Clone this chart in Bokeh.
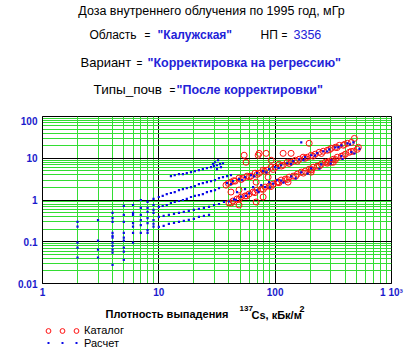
from bokeh.plotting import figure
from bokeh.models import FixedTicker, Range1d, Legend, LegendItem
from bokeh.layouts import column
from bokeh.core.properties import value
from bokeh.embed import file_html
from bokeh.resources import INLINE

# ---------------- data (density kBq/m2, dose mGy) ----------------
# Расчет (calculated) - vertical stacks at low density
calc_stack_x = [2, 2, 2, 2, 2,
                3, 3, 3, 3,
                4, 4, 4, 4, 4, 4, 4, 4, 4, 4, 4,
                5, 5, 5, 5, 5, 5, 5, 5, 5,
                6, 6, 6, 6, 6, 6, 6,
                7, 7, 7, 7, 7, 7,
                8, 8, 8, 8, 8, 8, 8,
                9, 9, 9, 9, 9, 9, 9]
calc_stack_y = [0.30, 0.23, 0.095, 0.072, 0.042,
                0.33, 0.106, 0.065, 0.042,
                0.49, 0.37, 0.30, 0.164, 0.139, 0.125, 0.095, 0.080, 0.065, 0.055, 0.028,
                0.72, 0.44, 0.30, 0.164, 0.125, 0.106, 0.072, 0.058, 0.037,
                0.76, 0.49, 0.44, 0.28, 0.23, 0.164, 0.095,
                1.0, 0.645, 0.44, 0.33, 0.25, 0.164,
                0.90, 0.645, 0.52, 0.37, 0.28, 0.19, 0.164,
                1.06, 0.76, 0.58, 0.49, 0.33, 0.27, 0.23]

calc_b1_x = [12.7, 13.7, 14.9, 16.1, 17.4, 18.9, 20.4, 22.1, 23.9, 25.9, 28.1, 29.8, 31.6, 33.6, 35.6,
             30.4, 32.3, 34.2, 31.6, 29.2]
calc_b1_y = [3.73, 3.94, 4.16, 4.16, 4.39, 4.65, 4.91, 5.18, 5.47, 5.79, 6.1, 6.45, 6.8, 7.2, 7.6,
             8.03, 8.96, 6.1, 5.47, 7.2]

calc_b2_x = [10.0, 10.8, 11.7, 12.7, 13.7, 14.9, 16.1, 17.4, 18.9, 20.4, 22.1, 23.9, 25.9, 28.1, 30.4,
             32.9, 35.6, 38.6, 41.7]
calc_b2_y = [1.18, 1.25, 1.39, 1.47, 1.55, 1.73, 1.83, 1.93, 2.04, 2.15, 2.40, 2.54, 2.68, 2.83, 3.0,
             3.34, 3.53, 3.73, 3.94]

calc_b3_x = [10.0, 10.8, 11.7, 12.7, 13.7, 14.9, 16.1, 17.4, 18.9, 20.4, 22.1, 23.9, 25.9, 28.1, 30.4, 32.9]
calc_b3_y = [0.681, 0.719, 0.76, 0.848, 0.896, 0.947, 1.0, 1.06, 1.18, 1.25, 1.31, 1.39, 1.55, 1.64, 1.73, 1.93]

calc_b4_x = [10.0, 11.0, 12.2, 13.5, 14.9, 16.4, 18.1, 20.0, 22.1, 24.4, 27.0, 29.8, 32.9, 36.3, 40.1,
             44.3, 50.9, 59.7, 69.9, 82.0, 96.1, 112.6, 137.4, 167.6, 204, 249, 304, 371, 452, 530,
             46, 56, 72, 90, 118, 150, 190, 240, 300, 380, 480]
calc_b4_y = [0.394, 0.416, 0.439, 0.464, 0.49, 0.518, 0.547, 0.578, 0.61, 0.645, 0.681, 0.76, 0.803, 0.896, 0.92,
             1.03, 1.2, 1.44, 1.71, 2.05, 2.46, 2.93, 3.66, 4.57, 5.71, 7.16, 8.96, 11.2, 14.0, 16.7,
             1.0, 1.25, 1.55, 2.0, 2.6, 3.3, 4.3, 5.6, 7.4, 9.6, 13.0]

calc_b5_x = [10.0, 11.0, 12.2, 13.5, 14.9, 16.4, 18.1, 20.0, 22.1, 24.4, 27.0]
calc_b5_y = [0.228, 0.24, 0.268, 0.283, 0.299, 0.316, 0.334, 0.353, 0.394, 0.416, 0.439]

calc_b6_x = [38.6, 43.4, 48.9, 55.1, 62.0, 69.9, 78.8, 88.8, 100, 112.6, 126.9, 143, 161, 181, 204, 230,
             259, 292, 329, 371, 418, 470,
             41.7, 52, 66, 84, 107, 137, 175, 220, 280, 350, 440,
             47.0, 55.1, 64.6, 75.9, 88.8, 104, 167.6]
calc_b6_y = [2.54, 2.83, 3.16, 3.53, 3.94, 4.39, 4.91, 5.47, 6.1, 6.8, 7.6, 8.5, 9.45, 10.6, 11.8, 13.2,
             14.7, 16.4, 18.3, 20.4, 22.8, 24.0,
             2.4, 3.0, 3.7, 4.6, 5.8, 7.2, 9.0, 11.5, 14.5, 18.5, 21.5,
             1.55, 1.83, 2.04, 2.27, 2.68, 3.0, 24.0]

# Каталог (catalogue)
cat_upper_x = [37.8, 41.7, 45.2, 48.9, 53.0, 57.4, 62.0, 67.2, 72.8, 78.8, 85.3, 92.4, 100, 108, 117,
               126.9, 137.4, 149, 161, 174, 189, 204, 221, 239, 259, 281, 304, 329, 356, 386, 418, 452,
               39.5, 44, 51, 60, 70, 81, 96, 113, 132, 155, 181, 212, 250, 293, 340, 395]
cat_upper_y = [2.27, 2.68, 2.83, 3.34, 3.34, 3.73, 3.73, 4.39, 4.39, 5.18, 5.18, 6.1, 6.1, 7.2, 6.8,
               8.03, 8.03, 8.96, 9.47, 10.6, 10.6, 11.8, 12.5, 13.9, 14.7, 15.5, 17.3, 18.3, 20.4, 20.4, 22.8, 24.0,
               2.5, 2.9, 3.1, 3.6, 4.1, 4.9, 5.4, 6.5, 7.5, 8.5, 10.0, 11.2, 13.0, 16.0, 18.0, 21.5]

cat_lower_x = [40.1, 43.4, 47.0, 50.9, 55.1, 59.7, 64.6, 69.9, 75.9, 82.0, 88.8, 96.1, 104, 112.6, 122,
               132, 143, 155, 167.6, 181, 196, 213, 230, 249, 270, 292, 316, 342, 371, 401, 434, 470, 509,
               42, 49, 57, 67, 79, 92, 108, 127, 150, 175, 205, 240, 280, 330, 385, 450]
cat_lower_y = [0.848, 0.947, 1.06, 1.18, 1.25, 1.39, 1.55, 1.73, 1.83, 2.04, 2.15, 2.40, 2.68, 3.0, 3.16,
               3.53, 3.73, 4.16, 4.65, 4.91, 5.47, 6.1, 6.45, 7.2, 8.03, 8.48, 9.47, 10.6, 11.2, 12.5, 13.9, 14.7, 16.4,
               0.85, 1.05, 1.25, 1.5, 1.8, 2.1, 2.6, 3.1, 3.7, 4.4, 5.4, 6.5, 7.6, 9.3, 11.5, 14.5]

cat_out_x = [54.1, 56.2, 72.8, 83.6, 117, 137, 196, 204, 304, 480, 519, 129, 78.8, 48.9, 71.4, 92.4,
             87.0, 68.6, 106, 41.7, 48.9, 68.6, 286, 316, 204]
cat_out_y = [11.8, 8.03, 13.1, 13.1, 13.1, 13.1, 22.8, 4.65, 8.03, 29.9, 18.3, 2.68, 1.18, 0.76, 11.8, 8.96,
             3.53, 2.68, 2.68, 1.55, 1.73, 0.896, 8.03, 8.03, 5.18]

x_major = [1, 10, 100, 1000]
x_labels = ["1", "10", "100", "1 10³"]
y_major = [0.01, 0.1, 1, 10, 100]
y_labels = ["0.01", "0.1", "1", "10", "100"]

calc_x = calc_stack_x + calc_b1_x + calc_b2_x + calc_b3_x + calc_b4_x + calc_b5_x + calc_b6_x
calc_y = calc_stack_y + calc_b1_y + calc_b2_y + calc_b3_y + calc_b4_y + calc_b5_y + calc_b6_y
cat_x = cat_upper_x + cat_lower_x + cat_out_x
cat_y = cat_upper_y + cat_lower_y + cat_out_y

FONT = "Liberation Sans"
BLUE = "#2222d8"
BLUE_TICK = "#1a1acc"
LEFT, RIGHT = 42, 29   # borders so that all frames span page x 42..391

# ---------------- header (text only; coordinates = page pixels) ----------------
top = figure(width=420, height=116, x_range=Range1d(LEFT, 420 - RIGHT), y_range=Range1d(116, 0),
             x_axis_type=None, y_axis_type=None, output_backend="svg", toolbar_location=None,
             min_border_left=LEFT, min_border_right=RIGHT, min_border_top=0, min_border_bottom=0)
top.grid.visible = False
top.outline_line_color = None


def seg(fig, x, y, text, color="black", size="13px", style="normal", align="left"):
    fig.text(x=[x], y=[y], text=[text], text_color=color, text_font=value(FONT),
             text_font_size=size, text_font_style=style, text_align=align,
             text_baseline="middle")


seg(top, 211, 10, "Доза внутреннего облучения по 1995 год, мГр", size="12.5px", align="center")
seg(top, 89, 34, "Область", size="12px")
seg(top, 147, 35, "=", size="10px", align="center")
seg(top, 157, 34, "\"Калужская\"", color=BLUE, size="12px", style="bold")
seg(top, 260, 34, "НП", size="12px")
seg(top, 284, 35, "=", size="10px", align="center")
seg(top, 293, 34, "3356", color=BLUE, size="12.5px")
seg(top, 80, 62, "Вариант")
seg(top, 139, 63, "=", size="10px", align="center")
seg(top, 147, 62, "\"Корректировка на регрессию\"", color=BLUE, size="12.5px", style="bold")
seg(top, 93, 89, "Типы_почв", size="13.5px")
seg(top, 172, 90, "=", size="10px", align="center")
seg(top, 176, 89, "\"После корректировки\"", color=BLUE, size="12.5px", style="bold")

# ---------------- main chart ----------------
p = figure(width=420, height=186, x_axis_type="log", y_axis_type="log",
           x_range=Range1d(1, 1000), y_range=Range1d(0.01, 100),
           output_backend="svg", toolbar_location=None,
           min_border_left=LEFT, min_border_right=RIGHT, min_border_top=0, min_border_bottom=19)
p.background_fill_color = "white"
p.border_fill_color = "white"
p.outline_line_color = "black"

x_minor = [m * 10 ** k for k in range(0, 3) for m in range(2, 10)]
y_minor = [m * 10.0 ** k for k in range(-2, 2) for m in range(2, 10)]
xt = FixedTicker(ticks=x_major, minor_ticks=x_minor)
yt = FixedTicker(ticks=y_major, minor_ticks=y_minor)
p.xaxis.ticker = xt
p.yaxis.ticker = yt
p.xgrid.ticker = xt
p.ygrid.ticker = yt
for g in (p.xgrid, p.ygrid):
    g.grid_line_color = "black"
    g.grid_line_width = 1
    g.minor_grid_line_color = "#33dd33"
    g.minor_grid_line_width = 1

p.xaxis.major_label_overrides = dict(zip(x_major, x_labels))
p.yaxis.major_label_overrides = dict(zip(y_major, y_labels))
for ax in (p.xaxis, p.yaxis):
    ax.major_tick_out = 0
    ax.major_tick_in = 0
    ax.minor_tick_out = 0
    ax.minor_tick_in = 0
    ax.axis_line_color = "black"
    ax.major_label_text_font = FONT
    ax.major_label_text_font_size = "10px"
    ax.major_label_text_font_style = "bold"
    ax.major_label_text_color = BLUE_TICK
p.xaxis.major_label_standoff = 3
p.yaxis.major_label_standoff = 5

CAT_STYLE = dict(marker="circle", size=6, fill_color=None, line_color="#ff1010", line_width=1)
CALC_STYLE = dict(marker="square", size=2.2, fill_color="#0a0ae6", line_color=None)
p.scatter(cat_x, cat_y, **CAT_STYLE)
p.scatter(calc_x, calc_y, **CALC_STYLE)

# ---------------- footer: axis title + legend (coordinates = page pixels) ----------------
bottom = figure(width=420, height=57, x_range=Range1d(LEFT, 420 - RIGHT), y_range=Range1d(359, 302),
                x_axis_type=None, y_axis_type=None, output_backend="svg", toolbar_location=None,
                min_border_left=LEFT, min_border_right=RIGHT, min_border_top=0, min_border_bottom=0)
bottom.grid.visible = False
bottom.outline_line_color = None
seg(bottom, 105, 313, "Плотность выпадения", size="11px", style="bold")
seg(bottom, 239, 308, "137", size="8px", style="bold")
seg(bottom, 251, 314, "Cs, кБк/м", size="11px", style="bold")
seg(bottom, 299, 308, "2", size="9px", style="bold")

# legend entries refer to the same two series (hidden copies in this text-only panel)
lr_cat = bottom.scatter(cat_x, cat_y, **CAT_STYLE)
lr_calc = bottom.scatter(calc_x, calc_y, **CALC_STYLE)
lr_cat.visible = False
lr_calc.visible = False

LEG_COMMON = dict(orientation="horizontal", glyph_width=12, spacing=0, padding=0, margin=0,
                  label_width=0,
                  border_line_color=None, background_fill_alpha=0, inactive_fill_alpha=0,
                  label_text_font=FONT, label_text_font_size="11px", label_standoff=2,
                  label_text_color="black")
leg_cat = Legend(items=[LegendItem(label="", renderers=[lr_cat]),
                        LegendItem(label="", renderers=[lr_cat]),
                        LegendItem(label="Каталог", renderers=[lr_cat])],
                 location=(0, 21.5), glyph_height=15, label_height=15, **LEG_COMMON)
leg_calc = Legend(items=[LegendItem(label="", renderers=[lr_calc]),
                         LegendItem(label="", renderers=[lr_calc]),
                         LegendItem(label="Расчет", renderers=[lr_calc])],
                  location=(0, 10.5), glyph_height=5, label_height=5, **LEG_COMMON)
bottom.add_layout(leg_cat, "center")
bottom.add_layout(leg_calc, "center")

layout = column(top, p, bottom, spacing=0)
open("out.html", "w").write(file_html(layout, INLINE))
